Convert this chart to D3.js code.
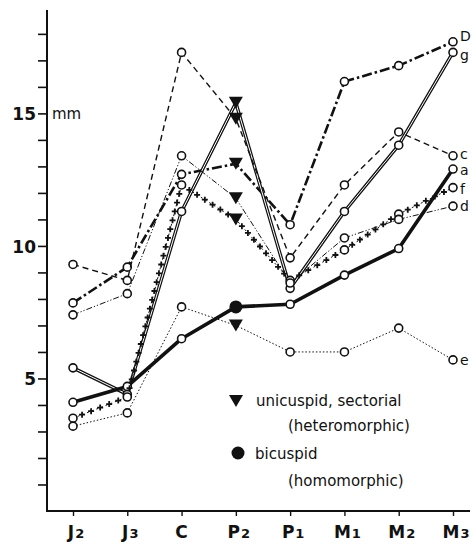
<!DOCTYPE html>
<html>
<head>
<meta charset="utf-8">
<script src="https://cdn.jsdelivr.net/npm/d3@7/dist/d3.min.js"></script>
<style>
  body { margin: 0; background: #fff; }
  text { font-family: "DejaVu Sans", "Liberation Sans", sans-serif; fill: #111; }
</style>
</head>
<body>
<svg id="chart" width="473" height="547"></svg>
<script>
// teeth along the jaw, with subscripts
var teeth = ["J2", "J3", "C", "P2", "P1", "M1", "M2", "M3"];
var toothLetters = ["J", "J", "C", "P", "P", "M", "M", "M"];
var toothSubs = ["2", "3", "", "2", "1", "1", "2", "3"];

// tooth length in mm, one list per specimen (letters at the right end)
var valuesD = [7.85, 9.2, 12.7, 13.1, 10.8, 16.2, 16.8, 17.7];
var valuesG = [5.4, 4.4, 11.3, 15.4, 8.4, 11.3, 13.8, 17.3];
var valuesC = [9.3, 8.7, 17.3, 14.8, 9.55, 12.3, 14.3, 13.4];
var valuesA = [4.1, 4.7, 6.5, 7.7, 7.8, 8.9, 9.9, 12.9];
var valuesF = [3.5, 4.3, 12.3, 11.0, 8.7, 9.85, 11.2, 12.2];
var valuesDs = [7.4, 8.2, 13.4, 11.8, 8.6, 10.3, 11.0, 11.5];
var valuesE = [3.2, 3.7, 7.7, 7.0, 6.0, 6.0, 6.9, 5.7];

var seriesNames = ["D", "g", "c", "a", "f", "d", "e"];
var seriesValues = [valuesD, valuesG, valuesC, valuesA, valuesF, valuesDs, valuesE];
// P2 form: unicuspid sectorial (triangle) or bicuspid (dot)
var p2Form = ["tri", "tri", "tri", "dot", "tri", "tri", "tri"];

var yTicks = d3.range(1, 19);
var yLabels = [5, 10, 15];

var svg = d3.select("#chart");

var x = d3.scalePoint()
    .domain(teeth)
    .range([73, 453]);

var y = d3.scaleLinear()
    .domain([0, 18.9])
    .range([511, 10]);

var line = d3.line()
    .x(function(d, i) { return x(teeth[i]); })
    .y(function(d) { return y(d); });

// line look for each specimen, and how far its end letter sits below the last point
var styles = {
    "D": { width: 2.6, dash: "10,3,2.5,3", nudge: -1 },
    "g": { width: 3.4, dash: null, double: true, nudge: 8 },
    "c": { width: 1.4, dash: "6,4", nudge: 3 },
    "a": { width: 3.6, dash: null, nudge: 6 },
    "f": { width: 1, dash: "2,3", plus: true, nudge: 6 },
    "d": { width: 1, dash: "6,2,1.2,2,1.2,2", nudge: 5 },
    "e": { width: 1, dash: "1.5,2", nudge: 5 }
};

var series = seriesNames.map(function(name, i) {
    return { name: name, values: seriesValues[i], form: p2Form[i], style: styles[name] };
});

// axes
var yAxis = d3.axisLeft(y)
    .tickValues(yTicks)
    .tickSize(9)
    .tickPadding(2)
    .tickFormat(function(d) { return yLabels.indexOf(d) >= 0 ? d : ""; });

var gy = svg.append("g")
    .attr("transform", "translate(47,0)")
    .call(yAxis);
gy.select(".domain").remove();
gy.selectAll(".tick line").attr("stroke", "#111").attr("stroke-width", 1.6);
gy.selectAll(".tick text")
    .attr("font-size", 17)
    .attr("font-weight", "bold")
    .attr("dy", "0.36em");

svg.append("line")
    .attr("x1", 47).attr("x2", 47)
    .attr("y1", y(0)).attr("y2", 10)
    .attr("stroke", "#111").attr("stroke-width", 2);

svg.append("text")
    .attr("x", 52).attr("y", y(15) + 6)
    .attr("font-size", 15)
    .text("mm");

var xAxis = d3.axisBottom(x)
    .tickSize(5)
    .tickFormat("");

var gx = svg.append("g")
    .attr("transform", "translate(0," + y(0) + ")")
    .call(xAxis);
gx.select(".domain").remove();
gx.selectAll(".tick line").attr("stroke", "#111").attr("stroke-width", 1.4);

svg.append("line")
    .attr("x1", 46).attr("x2", 470)
    .attr("y1", y(0)).attr("y2", y(0))
    .attr("stroke", "#111").attr("stroke-width", 2);

var xl = svg.append("g").selectAll("text")
    .data(teeth)
    .enter().append("text")
    .attr("x", function(d, i) { return x(d) + (toothSubs[i] ? 3 : 0); })
    .attr("y", 538)
    .attr("text-anchor", "middle")
    .attr("font-size", 17)
    .attr("font-weight", "bold");
xl.append("tspan").text(function(d, i) { return toothLetters[i]; });
xl.append("tspan")
    .attr("font-size", 13)
    .attr("dx", 1)
    .text(function(d, i) { return toothSubs[i]; });

// lines
var lines = svg.append("g").selectAll("g")
    .data(series)
    .enter().append("g");

lines.append("path")
    .attr("d", function(d) { return line(d.values); })
    .attr("fill", "none")
    .attr("stroke", "#111")
    .attr("stroke-linejoin", "round")
    .attr("stroke-width", function(d) { return d.style.width; })
    .attr("stroke-dasharray", function(d) { return d.style.dash; });

lines.filter(function(d) { return d.style.double; })
    .append("path")
    .attr("d", function(d) { return line(d.values); })
    .attr("fill", "none")
    .attr("stroke", "#fff")
    .attr("stroke-width", 1);

// plus signs along the f line
lines.filter(function(d) { return d.style.plus; }).each(function(d) {
    var g = d3.select(this);
    for (var i = 0; i < d.values.length - 1; i++) {
        var x0 = x(teeth[i]), y0 = y(d.values[i]);
        var x1 = x(teeth[i + 1]), y1 = y(d.values[i + 1]);
        var len = Math.hypot(x1 - x0, y1 - y0);
        var n = Math.floor(len / 9);
        for (var k = 1; k < n; k++) {
            var t = k / n;
            var px = x0 + (x1 - x0) * t, py = y0 + (y1 - y0) * t;
            g.append("path")
                .attr("d", "M" + (px - 3) + "," + py + "h6M" + px + "," + (py - 3) + "v6")
                .attr("stroke", "#111")
                .attr("stroke-width", 1.8);
        }
    }
});

// open circles at every tooth except P2
var p2 = teeth.indexOf("P2");
lines.selectAll("circle")
    .data(function(d) { return d.values.map(function(v, i) { return { v: v, i: i }; }).filter(function(p) { return p.i != p2; }); })
    .enter().append("circle")
    .attr("cx", function(p) { return x(teeth[p.i]); })
    .attr("cy", function(p) { return y(p.v); })
    .attr("r", 4)
    .attr("fill", "#fff")
    .attr("stroke", "#111")
    .attr("stroke-width", 1.6);

// P2 form markers
var tri = "M-7,-6L7,-6L0,6Z";
lines.filter(function(d) { return d.form == "tri"; })
    .append("path")
    .attr("transform", function(d) { return "translate(" + x("P2") + "," + y(d.values[p2]) + ")"; })
    .attr("d", tri)
    .attr("fill", "#111");

lines.filter(function(d) { return d.form == "dot"; })
    .append("circle")
    .attr("cx", x("P2"))
    .attr("cy", function(d) { return y(d.values[p2]); })
    .attr("r", 6.5)
    .attr("fill", "#111");

// letters at the right end
lines.append("text")
    .attr("x", x("M3") + 7)
    .attr("y", function(d) { return y(d.values[7]) + d.style.nudge; })
    .attr("font-size", 14)
    .text(function(d) { return d.name; });

// legend
var legend = svg.append("g").attr("font-size", 15);
legend.append("path")
    .attr("transform", "translate(236,401)")
    .attr("d", tri)
    .attr("fill", "#111");
legend.append("text").attr("x", 256).attr("y", 406).text("unicuspid, sectorial");
legend.append("text").attr("x", 288).attr("y", 431).text("(heteromorphic)");
legend.append("circle").attr("cx", 238).attr("cy", 453).attr("r", 6.5).attr("fill", "#111");
legend.append("text").attr("x", 255).attr("y", 459).text("bicuspid");
legend.append("text").attr("x", 288).attr("y", 486).text("(homomorphic)");
</script>
</body>
</html>
